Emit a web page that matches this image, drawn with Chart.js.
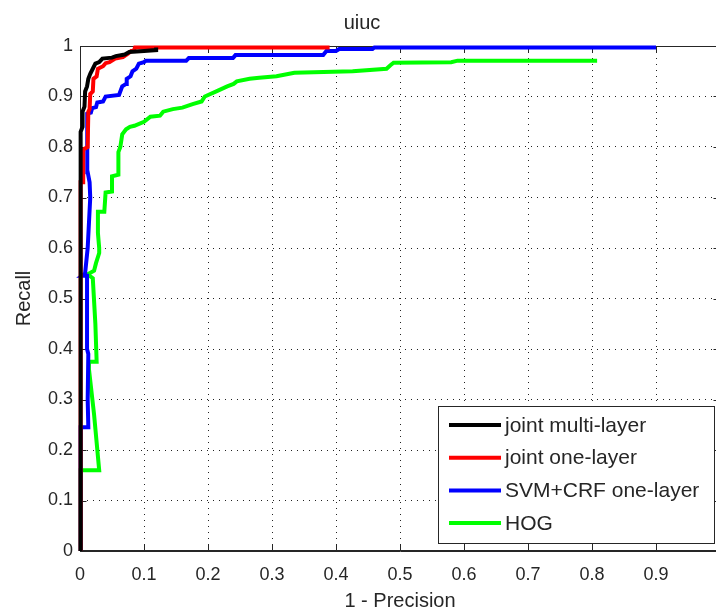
<!DOCTYPE html>
<html>
<head>
<meta charset="utf-8">
<style>
  html, body { margin: 0; padding: 0; background: #fff; overflow: hidden; }
  #wrap { width: 733px; height: 615px; }
</style>
</head>
<body>
<div id="wrap"><canvas id="prChart" width="733" height="615"></canvas></div>

<script src="https://cdn.jsdelivr.net/npm/chart.js"></script>
<script>
// precision / recall curves (x = 1 - precision, y = recall)
const seriesNames = ['joint multi-layer', 'joint one-layer', 'SVM+CRF one-layer', 'HOG'];
const seriesColors = ['#000000', '#ff0000', '#0000ff', '#00ff00'];

const multiX = [0.001, 0.001, 0.004, 0.004, 0.007, 0.008, 0.011, 0.013, 0.016, 0.020, 0.024, 0.030, 0.035, 0.050, 0.056, 0.070, 0.077, 0.100, 0.119, 0.119];
const multiY = [0, 0.83, 0.84, 0.87, 0.88, 0.91, 0.92, 0.935, 0.945, 0.955, 0.965, 0.968, 0.975, 0.977, 0.980, 0.983, 0.988, 0.990, 0.992, 0.997];

const oneX = [0.001, 0.001, 0.005, 0.005, 0.012, 0.013, 0.015, 0.016, 0.020, 0.021, 0.026, 0.028, 0.036, 0.040, 0.046, 0.055, 0.067, 0.075, 0.080, 0.084, 0.086, 0.39];
const oneY = [0, 0.73, 0.73, 0.795, 0.80, 0.87, 0.875, 0.905, 0.91, 0.935, 0.94, 0.955, 0.96, 0.966, 0.968, 0.975, 0.978, 0.985, 0.99, 0.99, 0.997, 0.997];

const svmX = [0.001, 0.001, 0.013, 0.012, 0.013, 0.011, 0.011, 0.003, 0.008, 0.012, 0.014, 0.016, 0.015, 0.012, 0.012, 0.011, 0.011,
  0.017, 0.019, 0.025, 0.027, 0.036, 0.040, 0.061, 0.066, 0.072, 0.073, 0.079, 0.082, 0.088, 0.092, 0.100, 0.103,
  0.166, 0.170, 0.239, 0.243, 0.380, 0.385, 0.400, 0.405, 0.457, 0.460, 0.900];
const svmY = [0, 0.245, 0.245, 0.30, 0.39, 0.40, 0.545, 0.545, 0.55, 0.60, 0.65, 0.70, 0.73, 0.75, 0.80, 0.84, 0.866,
  0.868, 0.877, 0.879, 0.888, 0.890, 0.900, 0.903, 0.920, 0.925, 0.935, 0.940, 0.950, 0.955, 0.965, 0.968, 0.971,
  0.971, 0.976, 0.976, 0.982, 0.982, 0.990, 0.990, 0.994, 0.994, 0.997, 0.997];

const hogX = [0.001, 0.001, 0.030, 0.022, 0.014, 0.014, 0.026, 0.024, 0.020, 0.012, 0.022, 0.025, 0.030, 0.030, 0.028, 0.028,
  0.038, 0.040, 0.050, 0.050, 0.060, 0.060, 0.063, 0.066, 0.072, 0.078, 0.085, 0.100, 0.110, 0.125, 0.130, 0.145, 0.160,
  0.176, 0.190, 0.195, 0.213, 0.230, 0.240, 0.245, 0.265, 0.280, 0.307, 0.335, 0.426, 0.479, 0.485, 0.490, 0.580, 0.590, 0.808];
const hogY = [0, 0.16, 0.16, 0.27, 0.36, 0.375, 0.375, 0.45, 0.54, 0.548, 0.555, 0.57, 0.59, 0.60, 0.63, 0.672,
  0.672, 0.71, 0.712, 0.742, 0.745, 0.79, 0.80, 0.825, 0.835, 0.84, 0.842, 0.85, 0.86, 0.862, 0.87, 0.875, 0.878,
  0.885, 0.89, 0.90, 0.91, 0.92, 0.925, 0.93, 0.935, 0.937, 0.94, 0.947, 0.95, 0.955, 0.962, 0.967, 0.968, 0.971, 0.971];

const xTickLabels = ['0', '0.1', '0.2', '0.3', '0.4', '0.5', '0.6', '0.7', '0.8', '0.9', ''];
const yTickLabels = ['0', '0.1', '0.2', '0.3', '0.4', '0.5', '0.6', '0.7', '0.8', '0.9', '1'];

const seriesX = [multiX, oneX, svmX, hogX];
const seriesY = [multiY, oneY, svmY, hogY];

const FONT = "'Liberation Sans', Arial, sans-serif";
const INK = '#262626';

function toPoints(xs, ys) {
  return xs.map((x, i) => ({ x: x, y: ys[i] }));
}

// box around the axes + ticks pointing inwards, matlab style
const axesBox = {
  id: 'axesBox',
  beforeDatasetsDraw(chart) {
    const { ctx, chartArea: a, scales } = chart;
    const L = Math.round(a.left) + 0.5, R = Math.round(a.right) - 0.5;
    const T = Math.round(a.top) + 0.5, B = Math.round(a.bottom) - 0.5;
    ctx.save();
    ctx.strokeStyle = INK;
    ctx.lineWidth = 1;
    ctx.strokeRect(L, T, R - L, B - T);
    ctx.beginPath();
    scales.x.ticks.forEach(t => {
      const px = Math.round(scales.x.getPixelForValue(t.value)) + 0.5;
      ctx.moveTo(px, B); ctx.lineTo(px, B - 6);
      ctx.moveTo(px, T); ctx.lineTo(px, T + 6);
    });
    scales.y.ticks.forEach(t => {
      const py = Math.round(scales.y.getPixelForValue(t.value)) + 0.5;
      ctx.moveTo(L, py); ctx.lineTo(L + 6, py);
      ctx.moveTo(R, py); ctx.lineTo(R - 6, py);
    });
    ctx.stroke();
    ctx.restore();
  }
};

// legend box in the lower right corner of the axes
const boxLegend = {
  id: 'boxLegend',
  afterDraw(chart) {
    const { ctx, chartArea: a } = chart;
    const w = 276, h = 137;
    const right = Math.round(a.right) - 6, bottom = Math.round(a.bottom) - 8;
    const left = right - w, top = bottom - h;
    ctx.save();
    ctx.fillStyle = '#fff';
    ctx.fillRect(left, top, w, h);
    ctx.strokeStyle = INK;
    ctx.lineWidth = 1;
    ctx.strokeRect(left + 0.5, top + 0.5, w, h);
    ctx.font = '21px ' + FONT;
    ctx.textBaseline = 'middle';
    chart.data.datasets.forEach((ds, i) => {
      const y = top + 19 + i * 32.7;
      ctx.strokeStyle = ds.borderColor;
      ctx.lineWidth = 4;
      ctx.beginPath();
      ctx.moveTo(left + 11, y);
      ctx.lineTo(left + 63, y);
      ctx.stroke();
      ctx.fillStyle = INK;
      ctx.fillText(ds.label, left + 67, y + 1);
    });
    ctx.restore();
  }
};

const datasets = seriesNames.map((name, i) => ({
  label: name,
  data: toPoints(seriesX[i], seriesY[i]),
  borderColor: seriesColors[i],
  backgroundColor: seriesColors[i],
  borderWidth: 4,
  pointRadius: 0,
  tension: 0,
  fill: false,
  clip: false
}));

new Chart(document.getElementById('prChart'), {
  type: 'line',
  data: { datasets: datasets },
  plugins: [axesBox, boxLegend],
  options: {
    responsive: false,
    animation: false,
    layout: { padding: { left: 0, right: 9, top: 0, bottom: 0 } },
    plugins: {
      legend: { display: false },
      tooltip: { enabled: false },
      title: {
        display: true,
        text: 'uiuc',
        color: INK,
        font: { family: FONT, size: 20, weight: 'normal' },
        padding: { top: 11, bottom: 11 }
      }
    },
    scales: {
      x: {
        type: 'linear',
        min: 0,
        max: 1,
        afterFit(scale) { scale.height = 64; },
        ticks: {
          stepSize: 0.1,
          padding: 13,
          color: INK,
          font: { family: FONT, size: 18 },
          maxRotation: 0,
          callback: (v, i) => xTickLabels[i]
        },
        grid: { color: '#222', lineWidth: 1, drawTicks: false },
        border: { display: true, color: INK, width: 1, dash: [1, 5] },
        title: {
          display: true,
          text: '1 - Precision',
          color: INK,
          font: { family: FONT, size: 20 },
          padding: { top: 0, bottom: 2 }
        }
      },
      y: {
        type: 'linear',
        min: 0,
        max: 1,
        afterFit(scale) { scale.width = 80; },
        ticks: {
          stepSize: 0.1,
          padding: 7,
          color: INK,
          font: { family: FONT, size: 18 },
          callback: (v, i) => yTickLabels[i]
        },
        grid: { color: '#222', lineWidth: 1, drawTicks: false },
        border: { display: true, color: INK, width: 1, dash: [1, 5] },
        title: {
          display: true,
          text: 'Recall',
          color: INK,
          font: { family: FONT, size: 20 },
          padding: { top: 12, bottom: 0 }
        }
      }
    }
  }
});
</script>
</body>
</html>
